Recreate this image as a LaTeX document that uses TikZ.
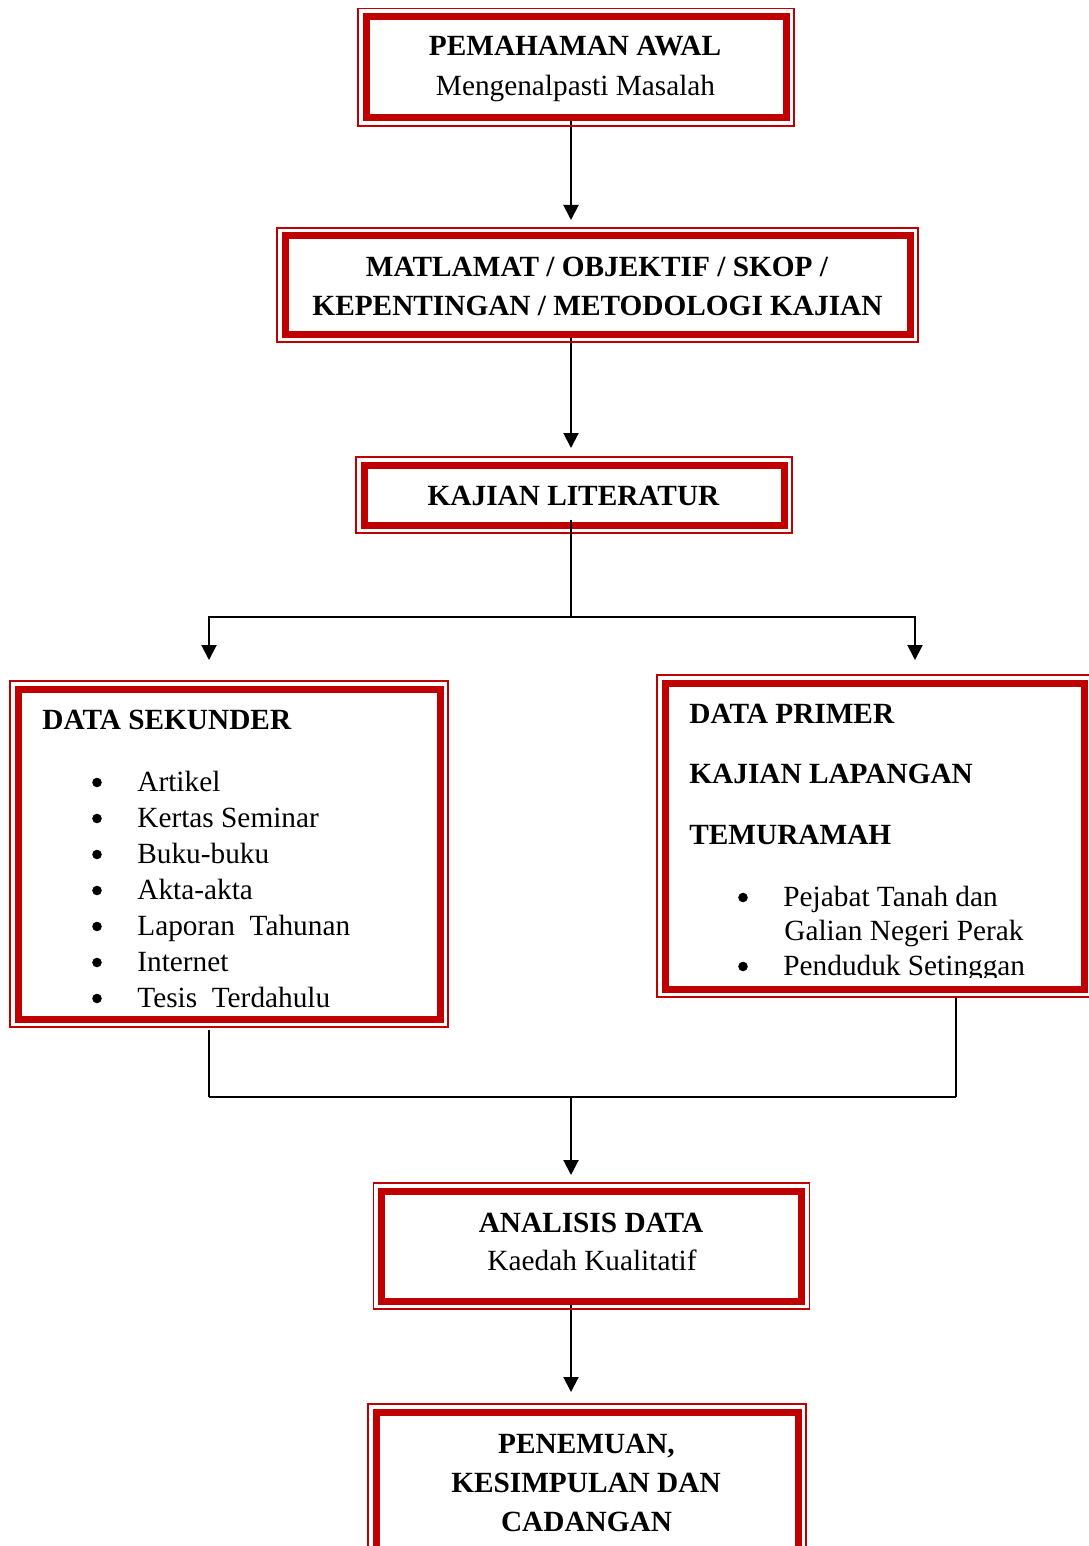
\documentclass[tikz,border=0pt]{standalone}
\usepackage{fontspec}
\setmainfont{Liberation Serif}
\usetikzlibrary{arrows.meta,backgrounds}
\definecolor{fr}{HTML}{C00000}
\newcommand\mainfs{\fontsize{14.65pt}{18pt}\selectfont}
\tikzset{
 box/.style={draw=fr, line width=3.5pt, fill=white, outer sep=0pt, inner sep=0pt, rectangle},
 rim/.style={draw=fr, line width=0.75pt},
 ctxt/.style={font=\mainfs, inner sep=0pt, anchor=base},
 cbold/.style={font=\mainfs\bfseries, inner sep=0pt, anchor=base},
 ltxt/.style={font=\mainfs, inner sep=0pt, anchor=base west},
 lbold/.style={font=\mainfs\bfseries, inner sep=0pt, anchor=base west},
 bul/.style={circle, fill=black, inner sep=0pt, minimum size=4.8pt},
 conn/.style={line width=1pt, black},
 thinconn/.style={line width=0.8pt, black},
 arr/.style={conn, -{Triangle[length=7.5pt,width=7.5pt]}},
}
\newcommand\rimframe[1]{\draw[rim] ([shift={(-8,-8)}]#1.north west) rectangle ([shift={(8,8)}]#1.south east);}
\begin{document}
\begin{tikzpicture}[x=0.5pt,y=-0.5pt]
\useasboundingbox (0,0) rectangle (1088,1546);

% boxes
\node[box, minimum width=210pt, minimum height=50.75pt] (b1) at (576,67.25) {};
\rimframe{b1}
\node[box, minimum width=312.5pt, minimum height=49pt] (b2) at (597.5,285) {};
\rimframe{b2}
\node[box, minimum width=210pt, minimum height=30pt] (b3) at (574,495) {};
\rimframe{b3}
\node[box, minimum width=211pt, minimum height=165pt] (b4) at (229,854) {};
\rimframe{b4}
\node[box, minimum width=209.5pt, minimum height=153pt] (b5) at (874.5,836) {};
\rimframe{b5}
\node[box, minimum width=210pt, minimum height=55pt] (b6) at (591.5,1246) {};
\rimframe{b6}
\node[box, minimum width=211pt, minimum height=72pt] (b7) at (587,1484) {};
\rimframe{b7}

% texts
\node[cbold] (t1a) at (575,56) {PEMAHAMAN AWAL};
\node[ctxt]  (t1b) at (575.5,96) {Mengenalpasti Masalah};
\node[cbold] (t2a) at (597,277) {MATLAMAT / OBJEKTIF / SKOP /};
\node[cbold] (t2b) at (597.5,315) {KEPENTINGAN / METODOLOGI KAJIAN};
\node[cbold] (t3)  at (573.5,505) {KAJIAN LITERATUR};

\node[lbold] (t4h) at (42,729) {DATA SEKUNDER};
\foreach \txt [count=\i] in {Artikel, Kertas Seminar, Buku-buku, Akta-akta, Laporan\ \ Tahunan, Internet, Tesis\ \ Terdahulu}{
  \node[bul] (bu\i) at (97,{782.5+36*(\i-1)}) {};
  \node[ltxt] (it\i) at (137,{791+36*(\i-1)}) {\txt};
}

\node[lbold] (t5a) at (689,723) {DATA PRIMER};
\node[lbold] (t5b) at (689,783) {KAJIAN LAPANGAN};
\node[lbold] (t5c) at (689,844) {TEMURAMAH};
\node[bul] (pb1) at (743,897.5) {};
\node[ltxt] (pi1) at (783,906) {Pejabat Tanah dan};
\node[ltxt] (pi1b) at (784,940) {Galian Negeri Perak};
\node[bul] (pb2) at (743,966.5) {};
\begin{scope}
\clip (670,940) rectangle (1080,977);
\node[ltxt] (pi2) at (783,975) {Penduduk Setinggan};
\end{scope}

\node[cbold] (t6a) at (591,1232) {ANALISIS DATA};
\node[ctxt]  (t6b) at (592,1270) {Kaedah Kualitatif};
\node[cbold] (t7a) at (586.5,1453) {PENEMUAN,};
\node[cbold] (t7b) at (586,1492) {KESIMPULAN DAN};
\node[cbold] (t7c) at (586.5,1531) {CADANGAN};

% junction coordinates
\coordinate (ax) at (571,0);
\coordinate (lx) at (209,0);
\coordinate (rx) at (956,0);
\coordinate (j1) at (571,617);
\coordinate (tL) at (209,660);
\coordinate (tR) at (915,660);
\coordinate (j2L) at (209,1097);
\coordinate (j2R) at (956,1097);
\coordinate (j2) at (571,1097);

% connectors
\begin{scope}[on background layer]
\draw[arr, shorten >=8pt] (b1.south -| ax) -- (b2.north -| ax);
\draw[arr, shorten >=8.5pt] (b2.south -| ax) -- (b3.north -| ax);
\draw[thinconn, shorten <=5.5pt] (b4.south -| lx) -- (j2L);
\draw[thinconn, shorten <=4pt] (b5.south -| rx) -- (j2R);
\draw[conn] (j2L) -- (j2R);
\draw[arr, shorten >=8pt] (j2) -- (b6.north -| ax);
\draw[arr, shorten >=10pt] (b6.south -| ax) -- (b7.north -| ax);
\end{scope}
\draw[thinconn, shorten <=-2.5pt] (b3.south -| ax) -- (j1);
\draw[arr] (j1) -| (tL);
\draw[arr] (j1) -| (tR);
\end{tikzpicture}
\end{document}
